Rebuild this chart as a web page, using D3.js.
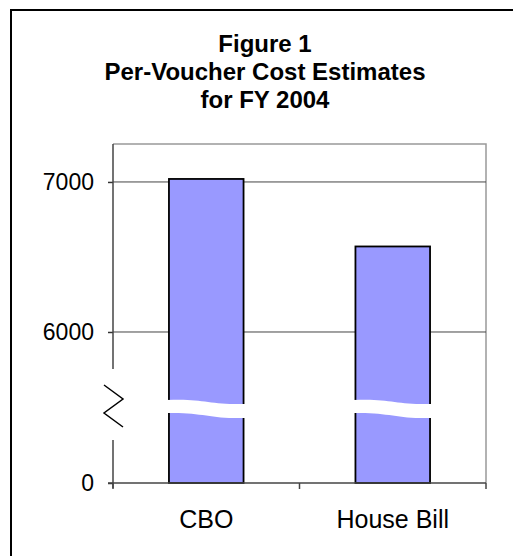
<!DOCTYPE html>
<html>
<head>
<meta charset="utf-8">
<script src="https://cdn.jsdelivr.net/npm/d3@7"></script>
<style>
  body { margin: 0; background: #fff; }
  text { font-family: Arial, "Liberation Sans", sans-serif; }
</style>
</head>
<body>
<svg id="chart" width="513" height="556"></svg>
<script>
// chart data
var categories = ['CBO', 'House Bill'];
var costs = [7020, 6570];
var tickValues = [0, 6000, 7000];
var titleLines = ['Figure 1', 'Per-Voucher Cost Estimates', 'for FY 2004'];

// axis break sits at this value, everything below it is squeezed
var BREAK_VALUE = 5480;
var AXIS_MAX = 7253;

var svg = d3.select('#chart');
var plot = { left: 113, right: 486, top: 144, bottom: 483 };

// outer frame (runs past right/bottom edge of the picture)
svg.append('rect')
    .attr('x', 11).attr('y', 10)
    .attr('width', 520).attr('height', 570)
    .attr('fill', 'none')
    .attr('stroke', '#000')
    .attr('stroke-width', 2);

// title
svg.append('g')
    .selectAll('text')
    .data(titleLines)
    .join('text')
    .attr('x', 265)
    .attr('y', function(d, i) { return 52 + i * 28; })
    .attr('text-anchor', 'middle')
    .attr('font-size', 24)
    .attr('font-weight', 'bold')
    .text(function(d) { return d; });

var x = d3.scaleBand()
    .domain(categories)
    .range([plot.left, plot.right])
    .paddingInner(0.6)
    .paddingOuter(0.3);

// piecewise scale: compressed part below the break
var y = d3.scaleLinear()
    .domain([0, BREAK_VALUE, AXIS_MAX])
    .range([plot.bottom, 410, plot.top]);

var yBreak = y(BREAK_VALUE);

// plot frame (top + right, grey)
svg.append('path')
    .attr('d', 'M' + plot.left + ',' + plot.top + 'H' + plot.right + 'V' + plot.bottom)
    .attr('fill', 'none')
    .attr('stroke', '#999')
    .attr('stroke-width', 1.5);

// gridlines
svg.append('g')
    .selectAll('line')
    .data(tickValues.filter(function(v) { return v > 0; }))
    .join('line')
    .attr('x1', plot.left).attr('x2', plot.right)
    .attr('y1', function(d) { return y(d); })
    .attr('y2', function(d) { return y(d); })
    .attr('stroke', '#444')
    .attr('stroke-width', 1);

// bars
var data = categories.map(function(c, i) { return { name: c, value: costs[i] }; });

svg.append('g')
    .selectAll('rect')
    .data(data)
    .join('rect')
    .attr('x', function(d) { return x(d.name); })
    .attr('y', function(d) { return y(d.value); })
    .attr('width', x.bandwidth())
    .attr('height', function(d) { return plot.bottom - y(d.value); })
    .attr('fill', '#9999ff')
    .attr('stroke', '#000')
    .attr('stroke-width', 1.8);

// white wavy band showing the break through each bar
svg.append('g')
    .selectAll('path')
    .data(data)
    .join('path')
    .attr('d', function(d) {
        var xl = x(d.name) - 2, xr = x(d.name) + x.bandwidth() + 2, w = xr - xl;
        var t = yBreak - 10, b = yBreak + 3;
        return 'M' + xl + ',' + t +
            'C' + (xl + w * 0.45) + ',' + (t - 2) + ' ' + (xl + w * 0.55) + ',' + (t + 5) + ' ' + xr + ',' + (t + 4) +
            'L' + xr + ',' + (b + 5) +
            'C' + (xl + w * 0.55) + ',' + (b + 6) + ' ' + (xl + w * 0.45) + ',' + (b - 1) + ' ' + xl + ',' + b + 'Z';
    })
    .attr('fill', '#fff')
    .attr('stroke', 'none');

// y axis: ticks + labels, domain drawn by hand because of the break
var yAxis = svg.append('g')
    .attr('transform', 'translate(' + plot.left + ',0)')
    .call(d3.axisLeft(y).tickValues(tickValues).tickSize(5).tickPadding(14).tickFormat(d3.format('d')));
yAxis.select('.domain').remove();
yAxis.selectAll('line').attr('stroke', '#333').attr('stroke-width', 1.5);
yAxis.selectAll('text')
    .attr('font-size', 23)
    .attr('fill', '#000')
    .style('font-family', 'Arial, "Liberation Sans", sans-serif');

svg.append('line')
    .attr('x1', plot.left).attr('x2', plot.left)
    .attr('y1', plot.top).attr('y2', yBreak - 41)
    .attr('stroke', '#444').attr('stroke-width', 1.5);
svg.append('line')
    .attr('x1', plot.left).attr('x2', plot.left)
    .attr('y1', yBreak + 30).attr('y2', plot.bottom + 5)
    .attr('stroke', '#444').attr('stroke-width', 1.5);

// zigzag break mark
svg.append('path')
    .attr('d', d3.line()([
        [plot.left - 9, yBreak - 25],
        [plot.left + 10, yBreak - 11],
        [plot.left - 9, yBreak + 3],
        [plot.left + 10, yBreak + 17]
    ]))
    .attr('fill', 'none')
    .attr('stroke', '#000')
    .attr('stroke-width', 1.5);

// x axis
svg.append('line')
    .attr('x1', plot.left - 5).attr('x2', plot.right)
    .attr('y1', plot.bottom).attr('y2', plot.bottom)
    .attr('stroke', '#444').attr('stroke-width', 1.5);

var step = x.step();
var boundaries = [plot.left].concat(categories.map(function(c) {
    return x(c) + x.bandwidth() + step * 0.3;
}));
svg.append('g')
    .selectAll('line')
    .data(boundaries)
    .join('line')
    .attr('x1', function(d) { return d; })
    .attr('x2', function(d) { return d; })
    .attr('y1', plot.bottom)
    .attr('y2', plot.bottom + 6)
    .attr('stroke', '#444').attr('stroke-width', 1.5);

var xAxis = svg.append('g')
    .attr('transform', 'translate(0,' + plot.bottom + ')')
    .call(d3.axisBottom(x).tickSize(0).tickPadding(27));
xAxis.select('.domain').remove();
xAxis.selectAll('text')
    .attr('font-size', 25)
    .attr('fill', '#000')
    .style('font-family', 'Arial, "Liberation Sans", sans-serif');
</script>
</body>
</html>
